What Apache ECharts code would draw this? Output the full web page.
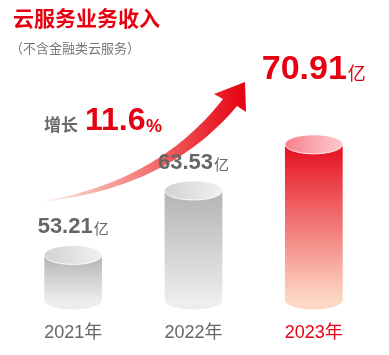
<!DOCTYPE html>
<html>
<head>
<meta charset="utf-8">
<script src="https://cdn.jsdelivr.net/npm/echarts@6/dist/echarts.min.js"></script>
<style>
html,body{margin:0;padding:0;background:#fff;}
#c{width:389px;height:355px;}
</style>
</head>
<body>
<div id="c"></div>
<script>
// ---- data ----
const categories = ['2021年', '2022年', '2023年'];
const revenue = [53.21, 63.53, 70.91];
const unit = '亿';
const growthText = '11.6';
const titleText = '云服务业务收入';
const subtitleText = '（不含金融类云服务）';

// ---- style ----
const RED = '#e60012';
const GREY_TEXT = '#666666';
const NUM_FONT = '"Liberation Sans", Arial, "Noto Sans CJK SC", sans-serif';
const CJK_FONT = '"Noto Sans CJK SC", "Liberation Sans", sans-serif';
const labelLift = [28, 28, 75];

function quad(p0, c, p2, n) {
  const pts = [];
  for (let i = 0; i <= n; i++) {
    const t = i / n, a = (1 - t) * (1 - t), b = 2 * t * (1 - t), d = t * t;
    pts.push([a * p0[0] + b * c[0] + d * p2[0], a * p0[1] + b * c[1] + d * p2[1]]);
  }
  return pts;
}
const tail = [30, 203];
const lower = quad(tail, [165, 192], [237, 106], 40);
const upper = quad(tail, [155, 186], [223, 99], 40).reverse();
const arrowPts = lower.concat([[246, 112], [245, 82], [214, 94]]).concat(upper);

const chart = echarts.init(document.getElementById('c'), null, {renderer: 'canvas'});

chart.setOption({
  animation: false,
  backgroundColor: '#ffffff',
  title: [
    {text: titleText, left: 13, top: 8, padding: 0,
     textStyle: {color: RED, fontSize: 21, fontWeight: 'bold', fontFamily: CJK_FONT}},
    {text: subtitleText, left: 10, top: 42, padding: 0,
     textStyle: {color: '#777777', fontSize: 13, fontWeight: 'normal', fontFamily: CJK_FONT}}
  ],
  grid: {left: 13, right: 15, top: 100, bottom: 55, containLabel: false},
  xAxis: {
    type: 'category',
    data: categories,
    axisLine: {show: false},
    axisTick: {show: false},
    axisLabel: {
      margin: 24,
      fontSize: 18,
      fontFamily: NUM_FONT,
      color: function (v, i) { return i === 2 ? RED : GREY_TEXT; }
    }
  },
  yAxis: {type: 'value', min: 46, max: 78, show: false, splitLine: {show: false}},
  graphic: [
    {type: 'polygon', z: 0, shape: {points: arrowPts},
     style: {fill: new echarts.graphic.LinearGradient(0, 0, 1, 0, [
       {offset: 0, color: 'rgba(253,228,220,0)'},
       {offset: 0.25, color: 'rgba(249,180,170,0.9)'},
       {offset: 0.55, color: '#f27474'},
       {offset: 0.85, color: '#e9232c'},
       {offset: 1, color: RED}
     ])}},
    {type: 'text', left: 44, top: 116, z: 10,
     style: {text: '增长', fill: '#6a6a6a', fontSize: 17, fontWeight: 'bold', fontFamily: CJK_FONT}},
    {type: 'text', x: 85, y: 121.5, z: 10,
     style: {text: growthText, fill: RED, fontSize: 32, fontWeight: 'bold', fontFamily: NUM_FONT,
             align: 'left', verticalAlign: 'middle'}},
    {type: 'text', x: 146, y: 127.5, z: 10,
     style: {text: '%', fill: RED, fontSize: 18, fontWeight: 'bold', fontFamily: NUM_FONT,
             align: 'left', verticalAlign: 'middle'}}
  ],
  series: [{
    type: 'custom',
    z: 5,
    data: revenue.map((v, i) => [i, v]),
    encode: {x: 0, y: 1},
    renderItem: function (params, api) {
      const idx = api.value(0);
      const v = api.value(1);
      const topPt = api.coord([idx, v]);
      const cs = params.coordSys;
      const bottomY = cs.y + cs.height;
      const bw = api.size([1, 0])[0] * 0.48;
      const rx = bw / 2, ry = 9.5;
      const cx = topPt[0], ty = topPt[1];
      const hl = idx === 2;
      const bodyFill = hl
        ? new echarts.graphic.LinearGradient(0, 0, 0, 1, [
            {offset: 0, color: '#e50d1c'},
            {offset: 0.45, color: '#f06a6c'},
            {offset: 1, color: '#fdd8c4'}])
        : new echarts.graphic.LinearGradient(0, 0, 0, 1, [
            {offset: 0, color: '#b3b3b3'},
            {offset: 1, color: '#ececec'}]);
      const topFill = hl
        ? new echarts.graphic.LinearGradient(0, 0, 1, 0, [
            {offset: 0, color: '#f7808c'},
            {offset: 1, color: '#fdcbd0'}])
        : new echarts.graphic.LinearGradient(0, 0, 1, 0, [
            {offset: 0, color: '#d2d2d2'},
            {offset: 1, color: '#f1f1f1'}]);
      const bottomColor = hl ? '#fdd8c4' : '#ededed';
      const numSize = hl ? 34 : 22;
      const unitSize = hl ? 18 : 15;
      const col = hl ? RED : GREY_TEXT;
      return {
        type: 'group',
        children: [
          {type: 'ellipse', shape: {cx: cx, cy: bottomY, rx: rx, ry: ry}, style: {fill: bottomColor}},
          {type: 'rect', shape: {x: cx - rx, y: ty, width: bw, height: bottomY - ty}, style: {fill: bodyFill}},
          {type: 'ellipse', shape: {cx: cx, cy: ty, rx: rx, ry: ry},
           style: {fill: topFill, stroke: 'rgba(255,255,255,0.9)', lineWidth: 1}},
          {type: 'text', x: cx, y: ty - labelLift[idx],
           style: {
             text: '{n|' + v.toFixed(2) + '}{u|' + unit + '}',
             align: 'center', verticalAlign: 'middle',
             rich: {
               n: {fontSize: numSize, fontWeight: 'bold', fontFamily: NUM_FONT, fill: col, color: col},
               u: {fontSize: unitSize, fontFamily: CJK_FONT, fill: col, color: col,
                   padding: [hl ? 8 : 3, 0, 0, 1]}
             }
           }}
        ]
      };
    }
  }]
});
</script>
</body>
</html>
